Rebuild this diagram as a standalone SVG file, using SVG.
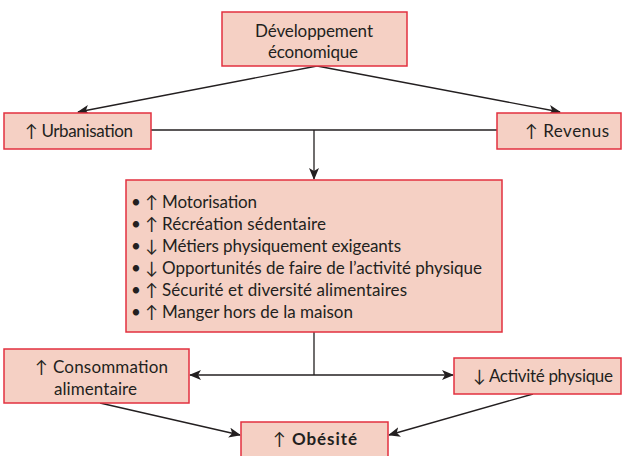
<svg xmlns="http://www.w3.org/2000/svg" width="622" height="456" viewBox="0 0 622 456">
<defs>
<marker id="ah" viewBox="0 0 12 10" refX="11" refY="5" markerWidth="12" markerHeight="10" markerUnits="userSpaceOnUse" orient="auto-start-reverse">
<path d="M0,0 L12,5 L0,10 L3,5 z" fill="#231f20"/>
</marker>
<style>
.box{fill:#f5d0c4;stroke:#e2303f;stroke-width:1.5}
text{font-family:Lato,"Open Sans","Liberation Sans",sans-serif;font-size:17px;fill:#231f20}
.b{font-weight:bold}
.ln{stroke:#231f20;stroke-width:1.3;fill:none}
</style>
</defs>
<rect width="622" height="456" fill="#ffffff"/>
<g id="connectors">
<path class="ln" d="M317,66 L78,112" marker-end="url(#ah)"/>
<path class="ln" d="M317,66 L560,112" marker-end="url(#ah)"/>
<path class="ln" d="M151,130 L497,130"/>
<path class="ln" d="M314,130 L314,179" marker-end="url(#ah)"/>
<path class="ln" d="M314,332 L314,375"/>
<path class="ln" d="M190,375 L453,375" marker-start="url(#ah)" marker-end="url(#ah)"/>
<path class="ln" d="M100,403 L240,435" marker-end="url(#ah)"/>
<path class="ln" d="M533,394 L389,435" marker-end="url(#ah)"/>
</g>
<g id="dev">
<rect class="box" x="222" y="12" width="185" height="54"/>
<text x="255" y="37" textLength="118">Développement</text>
<text x="268" y="58" textLength="90">économique</text>
</g>
<g id="urbanisation">
<rect class="box" x="4" y="113" width="147" height="36"/>
<text x="25" y="137" textLength="108">↑ Urbanisation</text>
</g>
<g id="revenus">
<rect class="box" x="497" y="113" width="124" height="36"/>
<text x="525" y="137" textLength="84">↑ Revenus</text>
</g>
<g id="facteurs">
<rect class="box" x="126" y="180" width="376" height="152"/>
<text x="131" y="208">• ↑</text>
<text x="162" y="208" textLength="95">Motorisation</text>
<text x="131" y="230">• ↑</text>
<text x="162" y="230" textLength="164">Récréation sédentaire</text>
<text x="131" y="252">• ↓</text>
<text x="162" y="252" textLength="239">Métiers physiquement exigeants</text>
<text x="131" y="274">• ↓</text>
<text x="162" y="274" textLength="320">Opportunités de faire de l’activité physique</text>
<text x="131" y="296">• ↑</text>
<text x="162" y="296" textLength="245">Sécurité et diversité alimentaires</text>
<text x="131" y="318">• ↑</text>
<text x="162" y="318" textLength="191">Manger hors de la maison</text>
</g>
<g id="consommation">
<rect class="box" x="4" y="349" width="185" height="54"/>
<text x="35" y="373">↑</text>
<text x="53" y="373" textLength="115">Consommation</text>
<text x="54" y="395" textLength="83">alimentaire</text>
</g>
<g id="activite">
<rect class="box" x="454" y="358" width="167" height="36"/>
<text x="473" y="382" textLength="140">↓ Activité physique</text>
</g>
<g id="obesite">
<rect class="box" x="241" y="422" width="147" height="40"/>
<text x="273" y="445" textLength="84"><tspan>↑ </tspan><tspan class="b">Obésité</tspan></text>
</g>
</svg>
